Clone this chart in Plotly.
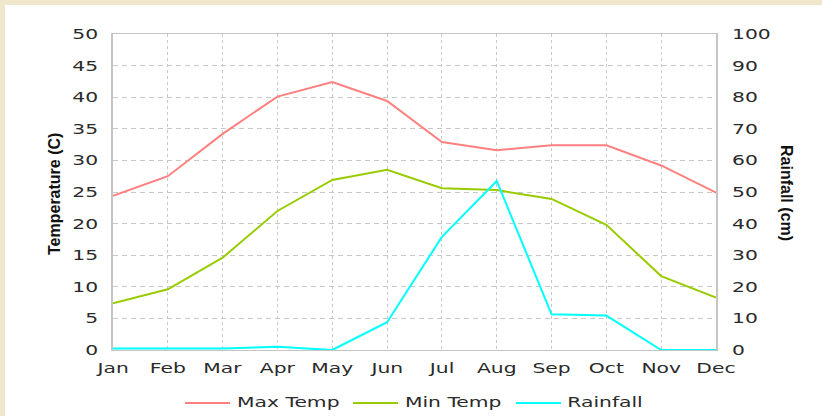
import plotly.graph_objects as go

months = ["Jan", "Feb", "Mar", "Apr", "May", "Jun", "Jul", "Aug", "Sep", "Oct", "Nov", "Dec"]
max_temp = [24.4, 27.5, 34.2, 40.1, 42.4, 39.4, 32.9, 31.6, 32.4, 32.4, 29.2, 24.9]
min_temp = [7.4, 9.6, 14.6, 22.0, 26.9, 28.5, 25.6, 25.3, 23.9, 19.8, 11.7, 8.3]
rainfall = [0.5, 0.5, 0.5, 1.0, 0.0, 8.8, 35.8, 53.5, 11.3, 10.9, 0.0, 0.0]

temp_ticks = [0, 5, 10, 15, 20, 25, 30, 35, 40, 45, 50]
rain_ticks = [0, 10, 20, 30, 40, 50, 60, 70, 80, 90, 100]

series_names = ["Max Temp", "Min Temp", "Rainfall"]
series_colors = ["#ff8080", "#99cc00", "#00ffff"]

W, H = 822, 416
L, R, T, B = 113, 106, 34, 66
PW, PH = W - L - R, H - T - B


def px_x(p):
    return (p - L) / PW


def px_y(p):
    return (H - B - p) / PH


tick_font = dict(family="DejaVu Sans", size=14, color="#2a2a2a")
title_font = dict(family="Liberation Sans", size=16, color="#111111", weight="bold")

fig = go.Figure()
fig.add_trace(go.Scatter(x=months, y=max_temp, name=series_names[0], mode="lines",
                         line=dict(color=series_colors[0], width=2)))
fig.add_trace(go.Scatter(x=months, y=min_temp, name=series_names[1], mode="lines",
                         line=dict(color=series_colors[1], width=2)))
fig.add_trace(go.Scatter(x=months, y=rainfall, name=series_names[2], mode="lines", yaxis="y2",
                         line=dict(color=series_colors[2], width=2)))

# manual legend (line swatches + labels) below the plot
legend_line_x = [(185, 230), (353, 398), (516, 561)]
legend_text_cx = [288.5, 453, 604.5]
legend_y = 403

shapes = [dict(type="rect", xref="paper", yref="paper", x0=px_x(5), x1=px_x(W + 5),
               y0=px_y(H + 5), y1=px_y(5), fillcolor="white", line=dict(width=0), layer="below")]
annotations = [
    dict(text="Temperature (C)", xref="paper", yref="paper", x=px_x(54), y=px_y(194),
         xanchor="center", yanchor="middle", textangle=-90, showarrow=False, font=title_font),
    dict(text="Rainfall (cm)", xref="paper", yref="paper", x=px_x(787), y=px_y(193),
         xanchor="center", yanchor="middle", textangle=90, showarrow=False, font=title_font),
]
for (x0, x1), cx, name, col in zip(legend_line_x, legend_text_cx, series_names, series_colors):
    shapes.append(dict(type="line", xref="paper", yref="paper", x0=px_x(x0), x1=px_x(x1),
                       y0=px_y(legend_y), y1=px_y(legend_y), line=dict(color=col, width=2)))
    annotations.append(dict(text=name, xref="paper", yref="paper", x=px_x(cx), y=px_y(legend_y - 1),
                            xanchor="center", yanchor="middle", showarrow=False, font=tick_font))

fig.update_layout(
    width=W, height=H,
    margin=dict(l=L, r=R, t=T, b=B, autoexpand=False),
    paper_bgcolor="#efe6cc",
    plot_bgcolor="white",
    font=tick_font,
    showlegend=False,
    xaxis=dict(
        type="category", range=[0, 11], tickmode="array", tickvals=months, ticktext=months,
        showgrid=True, gridcolor="#c8c8c8", griddash="3px,3px", gridwidth=1,
        showline=True, linecolor="#c4c4c4", linewidth=1, mirror=True,
        ticks="", tickfont=tick_font, zeroline=False, ticklabelstandoff=5, automargin=False,
    ),
    yaxis=dict(
        range=[0, 50], tickmode="array", tickvals=temp_ticks,
        showgrid=True, gridcolor="#c8c8c8", griddash="5px,4px", gridwidth=1,
        showline=True, linecolor="#c4c4c4", linewidth=2, mirror=True,
        ticks="", tickfont=tick_font, zeroline=False, ticklabelstandoff=10, automargin=False,
    ),
    yaxis2=dict(
        range=[0, 100], tickmode="array", tickvals=rain_ticks, overlaying="y", side="right",
        showgrid=False, showline=False, ticks="", tickfont=tick_font, zeroline=False,
        ticklabelstandoff=15, automargin=False,
    ),
    shapes=shapes,
    annotations=annotations,
)

# The reference uses a horizontally stretched pixel font: widen the label glyphs with CSS.
post_js = """
var st = document.createElement('style');
st.textContent = 'html,body{margin:0;padding:0;background:#efe6cc;overflow:hidden;}' +
  ' g.xtick, g.ytick, g.y2tick, g.annotation[data-index="2"], g.annotation[data-index="3"], g.annotation[data-index="4"]' +
  ' {transform-box:fill-box; transform:scaleX(1.45);}' +
  ' g.xtick, g.annotation {transform-origin:center center;}' +
  ' g.ytick {transform-origin:right center;}' +
  ' g.y2tick {transform-origin:left center;}';
document.head.appendChild(st);
"""

fig.write_html("out.html", post_script=post_js, config={"displayModeBar": False})
